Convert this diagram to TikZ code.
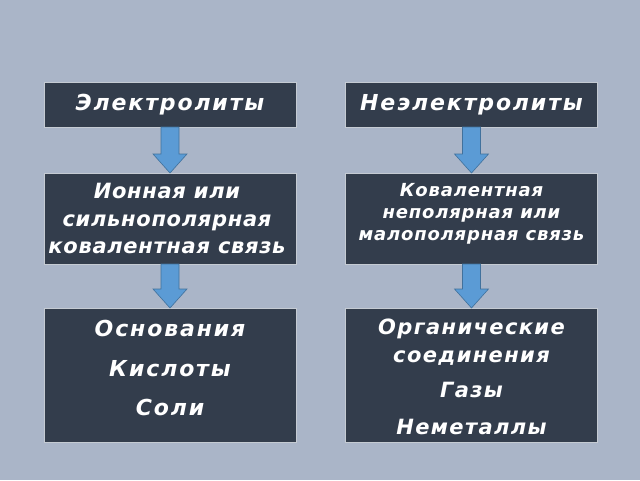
\documentclass[tikz,border=0pt]{standalone}
\usepackage{fontspec}
\setmainfont{DejaVu Sans}
\newfontfamily\fwide{DejaVu Sans}[LetterSpace=8.5]
\newfontfamily\fmid{DejaVu Sans}[LetterSpace=6.5]
\newfontfamily\fnarrow{DejaVu Sans}[LetterSpace=4.5]
\newfontfamily\ftight{DejaVu Sans}[LetterSpace=3.3]
\usetikzlibrary{calc}
\definecolor{bgc}{HTML}{AAB5C8}
\definecolor{boxc}{HTML}{333D4C}
\definecolor{edgec}{HTML}{C5CBD3}
\definecolor{arrf}{HTML}{5B9BD5}
\definecolor{arrd}{HTML}{41719C}
\tikzset{
  box/.style={draw=edgec, line width=0.8pt, fill=boxc, minimum width=252pt, inner sep=0pt, outer sep=0pt},
  txt/.style={text=white, align=center, inner sep=0pt},
  blk/.style={fill=arrf, draw=arrd, line width=0.6pt, line join=miter},
}
\newcommand\blockarrow[2]{%
  \draw[blk] let \p1=(#1.south), \p2=(#2.north) in
    (\x1-9pt,\y1) -- (\x1-9pt,\y2+19pt) -- (\x1-17pt,\y2+19pt) -- (\x2,\y2)
    -- (\x1+17pt,\y2+19pt) -- (\x1+9pt,\y2+19pt) -- (\x1+9pt,\y1) -- cycle;}
\begin{document}
\begin{tikzpicture}[x=1pt,y=-1pt]
\fill[bgc] (0,0) rectangle (640,480);
\useasboundingbox (0,0) rectangle (640,480);
% row 1
\node[box, minimum height=45pt] (a1) at (170,104.5) {};
\node[box, minimum height=45pt] (b1) at (471.5,104.5) {};
\node[txt, font=\fwide\bfseries\itshape\fontsize{22}{27}\selectfont] (ta1) at ([yshift=-0.5pt]a1.center) {Электролиты};
\node[txt, font=\fwide\bfseries\itshape\fontsize{22}{27}\selectfont] (tb1) at ([yshift=-0.5pt]b1.center) {Неэлектролиты};
% row 2
\node[box, minimum height=91pt] (a2) at (170,218.5) {};
\node[box, minimum height=91pt] (b2) at (471.5,218.5) {};
\node[txt, anchor=north, font=\ftight\bfseries\itshape\fontsize{21}{27.5}\selectfont] (ta2) at ([xshift=-3pt,yshift=-10pt]a2.north) {Ионная или\\сильнополярная\\ковалентная связь};
\node[txt, anchor=north, font=\fnarrow\bfseries\itshape\fontsize{18}{22}\selectfont] (tb2) at ([yshift=-10pt]b2.north) {Ковалентная\\неполярная или\\малополярная связь};
% row 3
\node[box, minimum height=134pt] (a3) at (170,375) {};
\node[box, minimum height=134pt] (b3) at (471.5,375) {};
\node[txt, anchor=north, font=\fwide\bfseries\itshape\fontsize{22}{39.5}\selectfont] (ta3) at ([yshift=-12pt]a3.north) {Основания\\Кислоты\\Соли};
\node[txt, anchor=north, font=\fmid\bfseries\itshape\fontsize{21}{28.5}\selectfont] (tb3) at ([yshift=-10.5pt]b3.north) {Органические\\соединения\\[6.5pt]Газы\\[8.5pt]Неметаллы};
% arrows
\blockarrow{a1}{a2}
\blockarrow{b1}{b2}
\blockarrow{a2}{a3}
\blockarrow{b2}{b3}
\end{tikzpicture}
\end{document}
